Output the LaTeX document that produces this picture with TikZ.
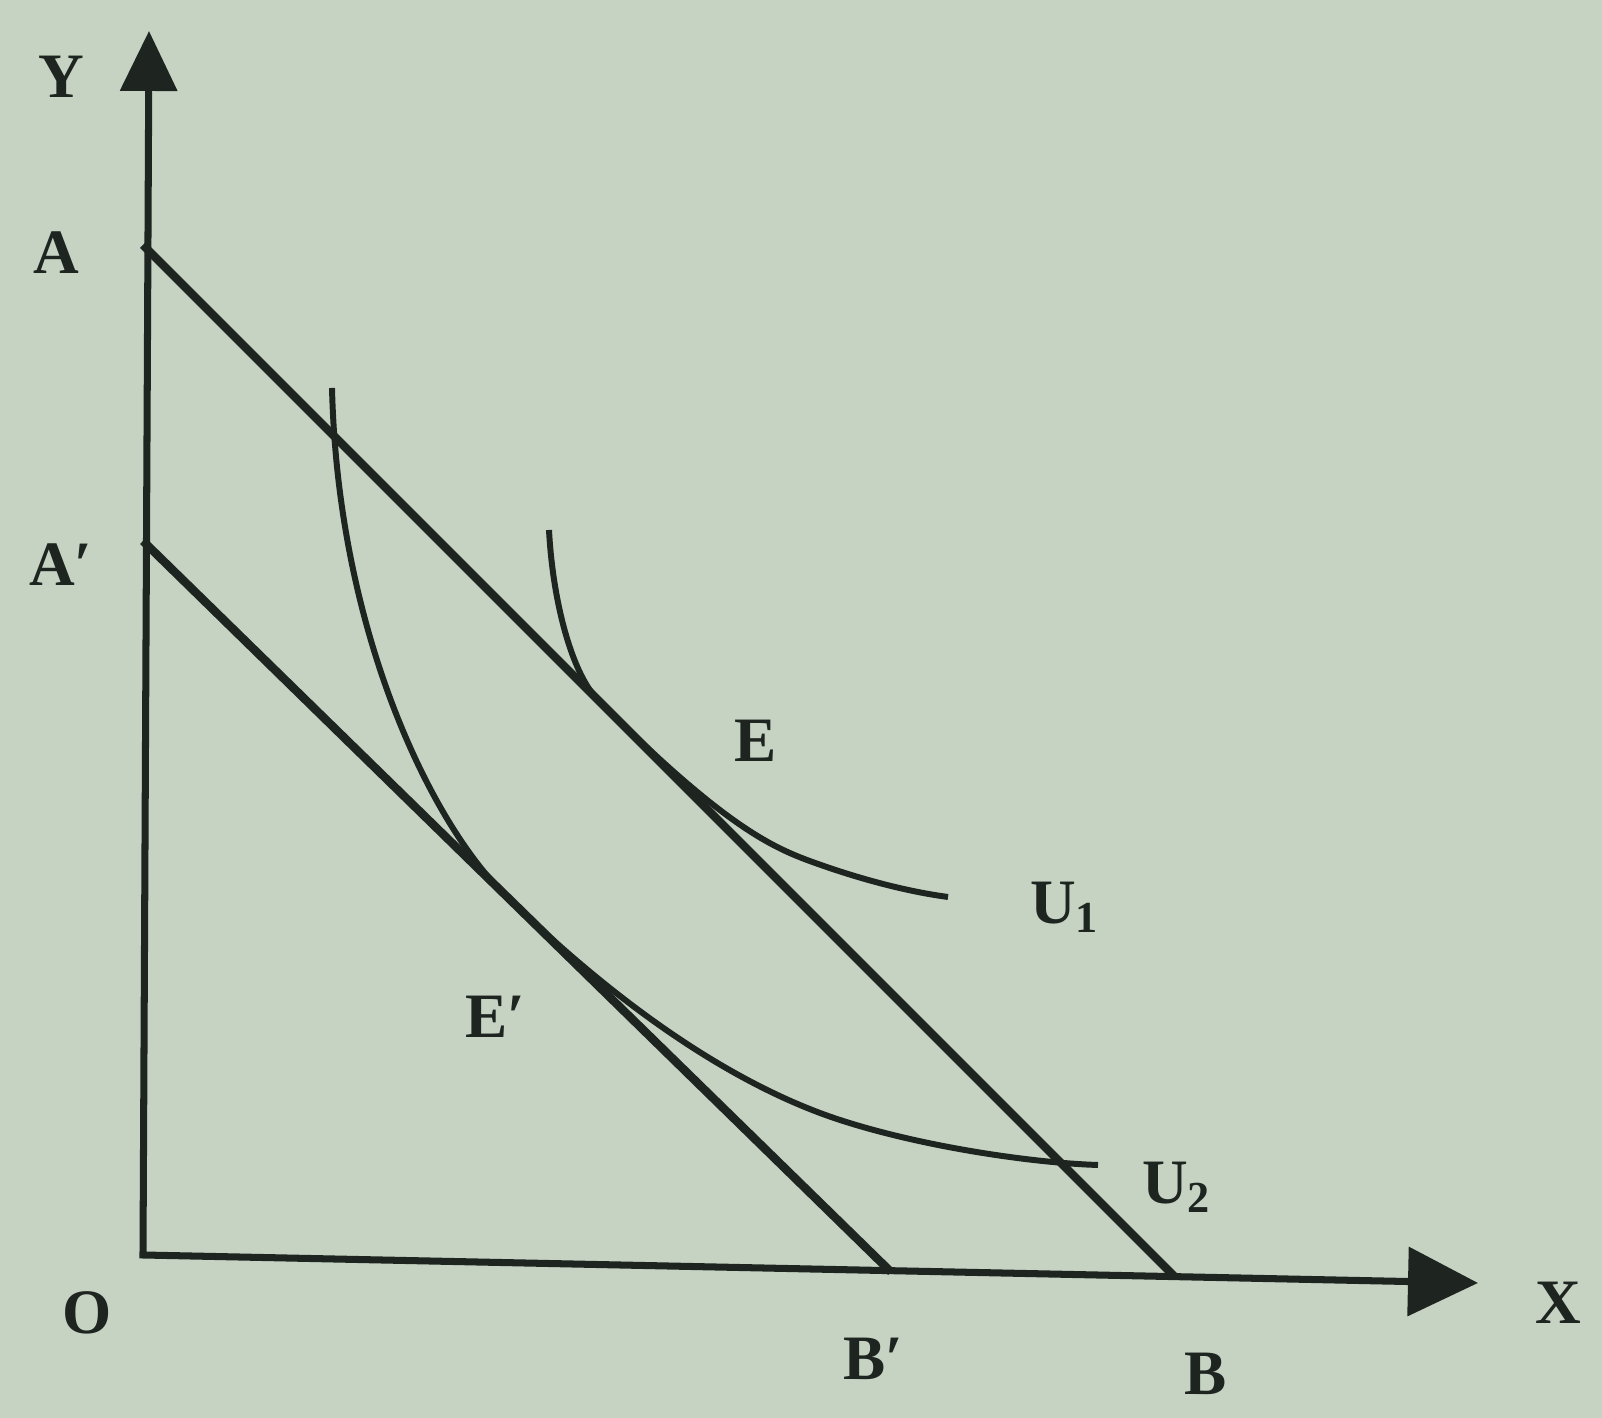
\documentclass[tikz,border=0pt]{standalone}
\usepackage{fontspec}
\setmainfont{Liberation Serif}
\usetikzlibrary{arrows.meta}
\definecolor{paperBg}{HTML}{C6D3C3}
\definecolor{inkDark}{HTML}{1E2420}

\begin{document}
\begin{tikzpicture}[
  font=\bfseries\fontsize{18}{20}\selectfont,
  axis/.style={line width=2pt, draw=inkDark, {Triangle[length=6mm,width=5.6mm]}-{Triangle[length=7mm,width=6.8mm]}},
  budget/.style={line width=2.4pt, draw=inkDark},
  indiff/.style={line width=1.7pt, draw=inkDark},
  lab/.style={text=inkDark, inner sep=1pt},
]

% =========================== PAPER ===========================
\fill[paperBg] (-1.43,-1.63) rectangle (14.59,12.55);
\useasboundingbox (-1.43,-1.63) rectangle (14.59,12.55);

% =========================== AXES ===========================
\coordinate (O)    at (0,0);
\coordinate (Ytip) at (0.06,12.24);
\coordinate (Xtip) at (13.35,-0.28);
\draw[axis] (Ytip) -- (O) -- (Xtip);

% =========================== BUDGET LINES ===========================
\coordinate (A)  at (0,10.10);
\coordinate (B)  at (10.32,-0.22);
\coordinate (Ap) at (0,7.14);
\coordinate (Bp) at (7.48,-0.17);
\draw[budget] (A) -- (B);
\draw[budget] (Ap) -- (Bp);

% =========================== INDIFFERENCE CURVES ===========================
% U1, touching AB near E
\coordinate (u1s) at (4.06,7.25);
\coordinate (u1m) at (4.55,5.55);
\coordinate (u1d) at (6.64,3.95);
\coordinate (u1e) at (8.05,3.58);
\draw[indiff] (u1s) .. controls (4.10,6.50) and (4.30,5.80) .. (u1m)
  .. controls (5.75,4.35) and (6.24,4.10) .. (u1d)
  .. controls (7.10,3.78) and (7.60,3.64) .. (u1e);

% U2, touching A'B' near E'
\coordinate (u2s) at (1.89,8.67);
\coordinate (u2m) at (3.62,3.60);
\coordinate (u2d) at (6.97,1.35);
\coordinate (u2e) at (9.55,0.90);
\draw[indiff] (u2s) .. controls (1.95,6.20) and (2.90,4.30) .. (u2m)
  .. controls (5.02,2.23) and (6.17,1.61) .. (u2d)
  .. controls (7.80,1.08) and (8.90,0.92) .. (u2e);

% =========================== LABELS ===========================
\node[lab] (labY)  at (-0.82,11.78) {Y};
\node[lab] (labX)  at (14.15,-0.48) {X};
\node[lab] (labO)  at (-0.56,-0.58) {O};
\node[lab] (labA)  at (-0.87,10.02) {A};
\node[lab] (labAp) at (-0.82,6.90) {A′};
\node[lab] (labB)  at (10.63,-1.19) {B};
\node[lab] (labBp) at (7.30,-1.04) {B′};
\node[lab] (labE)  at (6.13,5.14) {E};
\node[lab] (labEp) at (3.52,2.38) {E′};
\node[lab] (labU1) at (9.22,3.48) {U\textsubscript{1}};
\node[lab] (labU2) at (10.34,0.68) {U\textsubscript{2}};

\end{tikzpicture}
\end{document}
